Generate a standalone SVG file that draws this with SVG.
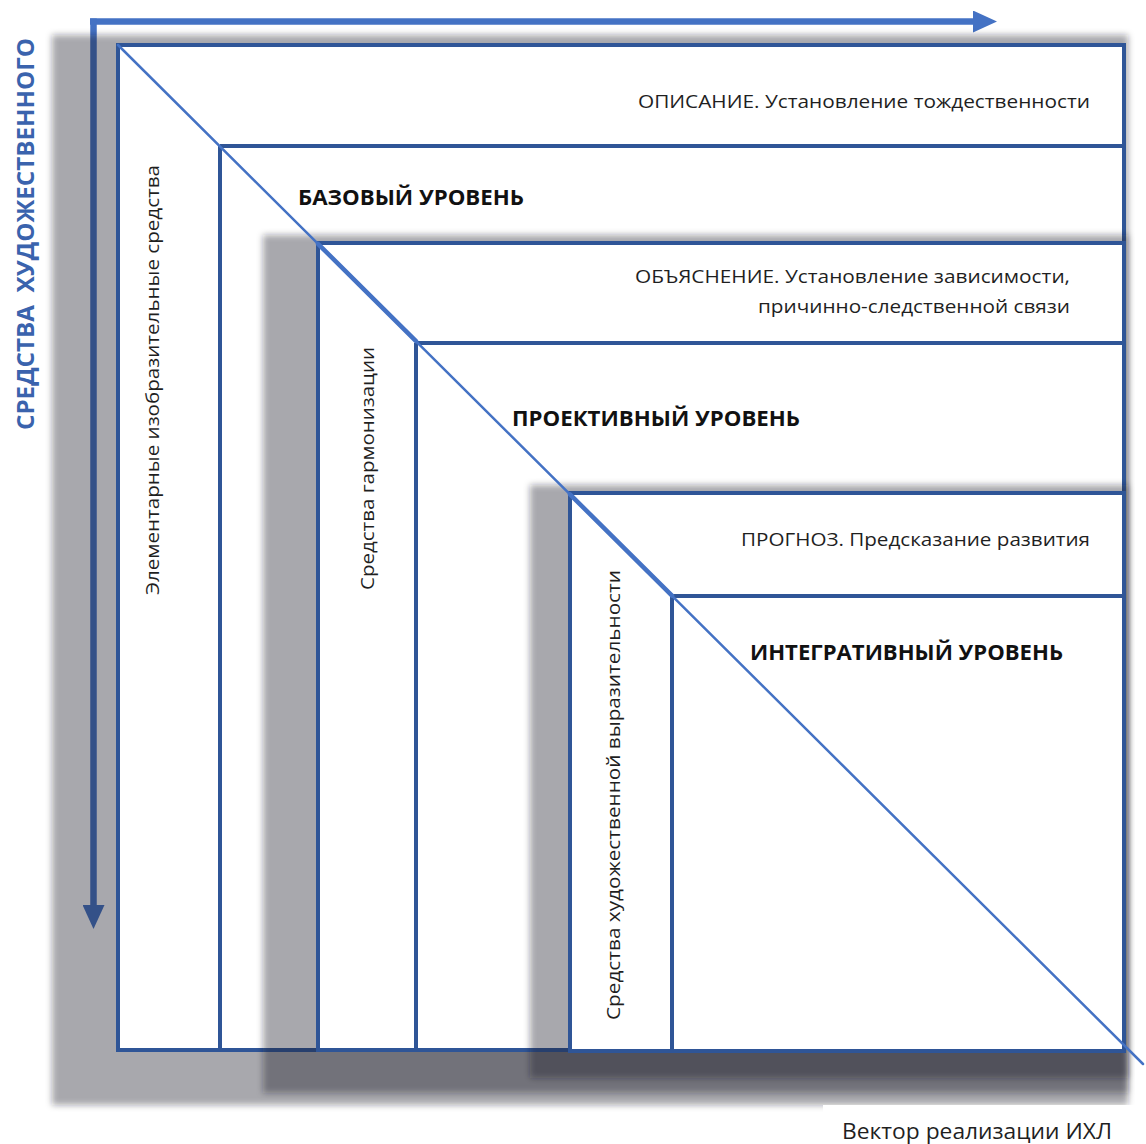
<svg xmlns="http://www.w3.org/2000/svg" width="1146" height="1144" viewBox="0 0 1146 1144">
  <defs>
    <style>
      .frame { fill: #ffffff; stroke: #2f5597; stroke-width: 4; }
      .rule { stroke: #2f5597; stroke-width: 4; fill: none; }
      .shadow { fill: #161e2b; fill-opacity: 0.38; filter: url(#soft); }
      .lbl { font-family: "Open Sans", "Liberation Sans", sans-serif; font-size: 18.5px; fill: #1f1f1f; }
      .lvl { font-family: "Open Sans", "Liberation Sans", sans-serif; font-size: 21px; font-weight: 700; fill: #111111; }
      .axis { stroke: #4472c4; stroke-width: 6.5; fill: none; }
      .diag { stroke: #4472c4; fill: none; stroke-linecap: round; }
    </style>
    <filter id="soft" x="-5%" y="-5%" width="110%" height="110%">
      <feGaussianBlur stdDeviation="3"/>
    </filter>
    <marker id="head" viewBox="0 0 24 22" refX="1" refY="11" markerWidth="24" markerHeight="22" markerUnits="userSpaceOnUse" orient="auto">
      <path d="M0,0 L24,11 L0,22 z" fill="#4472c4"/>
    </marker>
  </defs>

  <rect width="1146" height="1144" fill="#ffffff"/>

  <!-- axis arrows along the top and left edges -->
  <g id="axes">
    <line class="axis" x1="90" y1="21.5" x2="974" y2="21.5" marker-end="url(#head)"/>
    <line class="axis" x1="93.5" y1="18.5" x2="93.5" y2="906" marker-end="url(#head)"/>
    <text transform="translate(34,430) rotate(-90)" textLength="392" lengthAdjust="spacingAndGlyphs" style="white-space:pre" font-family="'Open Sans', 'Liberation Sans', sans-serif" font-size="23" font-weight="700" fill="#3a63ad">СРЕДСТВА  ХУДОЖЕСТВЕННОГО</text>
  </g>

  <!-- level 1: базовый -->
  <g id="level-base">
    <rect class="shadow" x="52" y="35" width="1076" height="1070"/>
    <rect class="frame" x="118" y="45" width="1006" height="1005"/>
    <line class="rule" x1="220" y1="146" x2="1124" y2="146"/>
    <line class="rule" x1="220" y1="146" x2="220" y2="1050"/>
    <text class="lbl" x="638" y="108" textLength="452" lengthAdjust="spacingAndGlyphs">ОПИСАНИЕ. Установление тождественности</text>
    <text class="lvl" x="298" y="205" textLength="226" lengthAdjust="spacingAndGlyphs">БАЗОВЫЙ УРОВЕНЬ</text>
    <text class="lbl" transform="translate(159,595) rotate(-90)" textLength="430" lengthAdjust="spacingAndGlyphs">Элементарные изобразительные средства</text>
  </g>

  <!-- level 2: проективный -->
  <g id="level-projective">
    <rect class="shadow" x="263" y="235" width="865" height="858"/>
    <rect class="frame" x="318" y="243" width="806" height="807"/>
    <line class="rule" x1="416" y1="343" x2="1124" y2="343"/>
    <line class="rule" x1="416" y1="343" x2="416" y2="1050"/>
    <text class="lbl" x="635" y="283" textLength="435" lengthAdjust="spacingAndGlyphs">ОБЪЯСНЕНИЕ. Установление зависимости,</text>
    <text class="lbl" x="758" y="313" textLength="312" lengthAdjust="spacingAndGlyphs">причинно-следственной связи</text>
    <text class="lvl" x="512" y="426" textLength="288" lengthAdjust="spacingAndGlyphs">ПРОЕКТИВНЫЙ УРОВЕНЬ</text>
    <text class="lbl" transform="translate(374,590) rotate(-90)" textLength="243" lengthAdjust="spacingAndGlyphs">Средства гармонизации</text>
  </g>

  <!-- level 3: интегративный -->
  <g id="level-integrative">
    <rect class="shadow" x="530" y="485" width="598" height="593"/>
    <rect class="frame" x="570" y="493" width="554" height="558"/>
    <line class="rule" x1="672" y1="596" x2="1124" y2="596"/>
    <line class="rule" x1="672" y1="596" x2="672" y2="1051"/>
    <text class="lbl" x="741" y="546" textLength="349" lengthAdjust="spacingAndGlyphs">ПРОГНОЗ. Предсказание развития</text>
    <text class="lvl" x="750" y="660" textLength="313" lengthAdjust="spacingAndGlyphs">ИНТЕГРАТИВНЫЙ УРОВЕНЬ</text>
    <text class="lbl" transform="translate(620,1020) rotate(-90)" textLength="450" lengthAdjust="spacingAndGlyphs">Средства художественной выразительности</text>
  </g>

  <!-- diagonal vector through the corners of the levels -->
  <g id="connectors">
    <line class="diag" stroke-width="2.5" x1="118" y1="45" x2="1143" y2="1064"/>
    <line class="diag" stroke-width="4.5" x1="318" y1="243.8" x2="416" y2="341.2"/>
    <line class="diag" stroke-width="4.5" x1="570" y1="494.3" x2="672" y2="595.7"/>
  </g>

  <!-- caption of the horizontal vector -->
  <g id="caption">
    <rect x="823" y="1105" width="323" height="39" fill="#ffffff"/>
    <text x="842" y="1139" textLength="270" lengthAdjust="spacingAndGlyphs" font-family="'Open Sans', 'Liberation Sans', sans-serif" font-size="22" fill="#1f1f1f">Вектор реализации ИХЛ</text>
  </g>
</svg>
